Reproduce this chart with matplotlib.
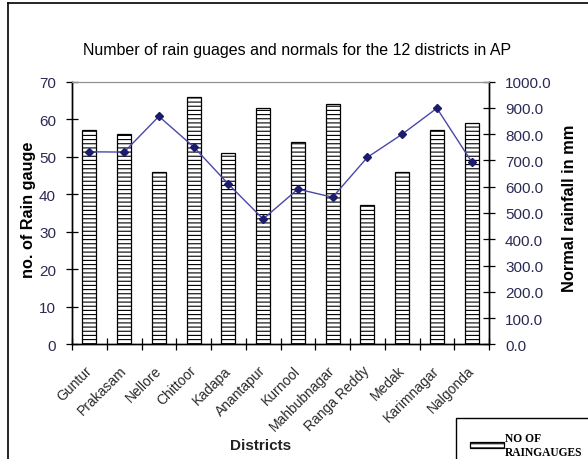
import numpy as np
import matplotlib
matplotlib.use("Agg")
import matplotlib.pyplot as plt
from matplotlib.lines import Line2D

plt.rcParams['font.family'] = ['Liberation Sans', 'DejaVu Sans']
plt.rcParams['hatch.linewidth'] = 0.8

# donnees
districts = ["Guntur", "Prakasam", "Nellore", "Chittoor", "Kadapa", "Anantapur",
             "Kurnool", "Mahbubnagar", "Ranga Reddy", "Medak", "Karimnagar", "Nalgonda"]
raingauges = [57, 56, 46, 66, 51, 63, 54, 64, 37, 46, 57, 59]
normals = [733, 732, 868, 752, 610, 477, 591, 560, 712, 800, 899, 695]

W, H = 588, 460
fig = plt.figure(figsize=(W / 100, H / 100), dpi=100)
ax = fig.add_axes([72 / W, 1 - 345.3 / H, (489 - 72) / W, (345.3 - 82.7) / H])
ax2 = ax.twinx()

x = np.arange(len(districts))
bars = ax.bar(x, raingauges, width=0.4, color="white", edgecolor="black",
              linewidth=0.9, hatch="----", zorder=2)
ax2.plot(x, normals, color="#4848a8", linewidth=1.0, marker="D", markersize=4.5,
         markerfacecolor="#1c1c6c", markeredgecolor="#1c1c6c", zorder=3)

ax.set_xlim(-0.5, len(districts) - 0.5)
ax.set_ylim(0, 70)
ax.set_yticks(np.arange(0, 71, 10))
ax2.set_ylim(0, 1000)
ax2.set_yticks(np.arange(0, 1001, 100))
ax2.set_yticklabels(["%.1f" % v for v in np.arange(0, 1001, 100)])

# ticks entre les categories
ax.set_xticks(x)
ax.set_xticklabels(districts, rotation=45, ha="right", va="center",
                   rotation_mode="anchor", fontsize=10)
ax.set_xticks(np.arange(-0.5, len(districts), 1), minor=True)
ax.tick_params(axis="x", which="major", length=0, pad=17)
ax.tick_params(axis="x", which="minor", direction="inout", length=8, width=0.9)
ax.tick_params(axis="y", direction="inout", length=9, width=0.9, labelsize=11,
               labelcolor="#2a2a55", pad=7)
ax2.tick_params(axis="y", direction="inout", length=9, width=0.9, labelsize=11,
                labelcolor="#2a2a55", pad=7)
for lab in ax.get_xticklabels():
    lab.set_color("#2a2a2a")

for a in (ax, ax2):
    a.spines["top"].set_color("#909090")
    a.spines["top"].set_linewidth(0.8)
    for s in ("left", "right", "bottom"):
        a.spines[s].set_linewidth(1.0)

ax.set_ylabel("no. of Rain gauge", fontsize=11.7, fontweight="bold")
ax.yaxis.set_label_coords(-0.087, 0.515)
ax2.set_ylabel("Normal rainfall in mm", fontsize=11.8, fontweight="bold")
ax2.yaxis.set_label_coords(1.175, 0.523)
ax.set_xlabel("Districts", fontsize=11, fontweight="bold", color="#222222")
ax.xaxis.set_label_coords((261 - 72) / (489 - 72), (345.3 - 439) / (345.3 - 82.7))

fig.text(297 / W, 1 - 50 / H, "Number of rain guages and normals for the 12 districts in AP",
         ha="center", va="center", fontsize=11.5)

# cadre de la figure
fig.add_artist(Line2D([8 / W, 1], [1 - 4 / H, 1 - 4 / H], color="black", linewidth=1.2,
                      transform=fig.transFigure))
fig.add_artist(Line2D([8 / W, 8 / W], [0, 1 - 4 / H], color="black", linewidth=1.2,
                      transform=fig.transFigure))

leg = fig.legend([bars], ["NO OF\nRAINGAUGES"], loc="upper left",
                 bbox_to_anchor=(456 / W, 1 - 419 / H), borderaxespad=0,
                 prop={"family": "Liberation Serif", "weight": "bold", "size": 8.3},
                 handlelength=2.95, handleheight=0.45, fancybox=False, edgecolor="black",
                 framealpha=1, borderpad=1.2, handletextpad=0.1)
leg.get_frame().set_linewidth(1.0)

fig.savefig("out.png", dpi=100)
